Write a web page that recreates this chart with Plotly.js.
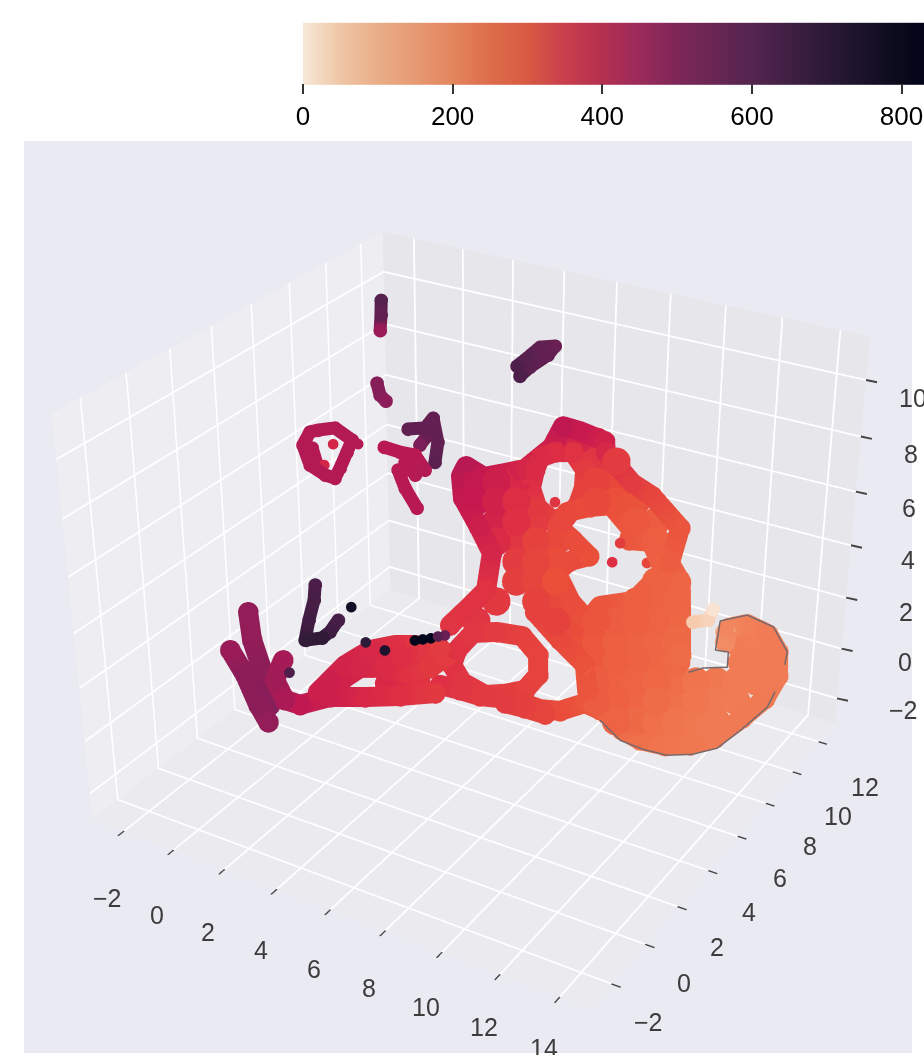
<!DOCTYPE html><html><head><meta charset="utf-8"><script src="https://cdn.plot.ly/plotly-3.0.1.min.js"></script><style>html,body{margin:0;padding:0;background:#fff;overflow:hidden}#g{position:absolute;left:0;top:-354px;width:924px;height:1870px}</style></head><body><div id="g"></div><script>
const H=1870,T=354;
const barScale=[[0,'#f6e8d8'],[0.06,'#efc6a5'],[0.12,'#e9ae88'],[0.24,'#e3865e'],[0.30,'#dd6d4a'],[0.36,'#d85a42'],[0.42,'#c93f4c'],[0.48,'#b5304f'],[0.54,'#9c2a5a'],[0.60,'#7f2758'],[0.72,'#552550'],[0.84,'#2d1a38'],[0.96,'#0a0a1c'],[1,'#05051a']];
const markScale=[[0,'#faebdd'],[0.06,'#f7d3bb'],[0.12,'#f5bd98'],[0.241,'#f2875f'],[0.301,'#ef6f49'],[0.361,'#ea4f3a'],[0.422,'#de2f44'],[0.482,'#c6184f'],[0.542,'#a61b57'],[0.602,'#861e59'],[0.723,'#56204f'],[0.843,'#2f1a38'],[1,'#03051a']];
const xr=[-3.3,15],yr=[-3.2,13.3],zr=[-3,11.5];
const xTicks=[-2,0,2,4,6,8,10,12,14],yTicks=[-2,0,2,4,6,8,10,12],zTicks=[-2,0,2,4,6,8,10],barTicks=[0,200,400,600,800];
const coreX=[7.47,8.02,8.18,8.73,5.06,5.60,6.15,8.34,8.88,5.21,5.76,6.31,8.50,9.04,9.59,5.92,6.47,7.01,9.75,10.30,6.08,6.63,7.17,7.72,10.46,6.79,7.33,7.88,6.94,7.49,8.04,10.77,11.32,6.56,7.65,8.20,10.39,10.93,11.48,6.17,8.36,8.90,9.45,10.00,10.54,11.09,11.64,9.06,9.61,10.16,10.70,11.25,11.80,13.44,13.98,9.77,10.32,10.86,11.41,11.96,14.14,9.93,10.47,11.02,11.57,12.12,12.66,13.21,13.76,14.30,10.09,10.63,11.18,11.73,12.27,12.82,13.37,13.92,10.79,11.34,11.89,12.43,12.98,13.53,13.77,14.47];
const coreY=[8.31,8.62,8.37,8.67,6.29,6.59,6.90,8.12,8.43,6.04,6.34,6.65,7.87,8.18,8.49,6.10,6.40,6.71,8.24,8.55,5.85,6.16,6.46,6.77,8.30,5.91,6.21,6.52,5.66,5.97,6.27,7.80,8.11,5.11,5.72,6.03,7.25,7.56,7.86,4.56,5.78,6.09,6.39,6.70,7.00,7.31,7.62,5.84,6.15,6.45,6.76,7.06,7.37,8.29,8.59,5.90,6.20,6.51,6.82,7.12,8.35,5.65,5.96,6.26,6.57,6.88,7.18,7.49,7.79,8.10,5.40,5.71,6.02,6.32,6.63,6.93,7.24,7.55,5.46,5.77,6.08,6.38,6.69,6.99,8.12,8.54];
const coreZ=[8.18,8.18,7.62,7.62,7.06,7.06,7.06,7.06,7.06,6.50,6.50,6.50,6.50,6.50,6.50,5.94,5.94,5.94,5.94,5.94,5.37,5.37,5.37,5.37,5.37,4.81,4.81,4.81,4.25,4.25,4.25,4.25,4.25,3.69,3.69,3.69,3.69,3.69,3.69,3.13,3.13,3.13,3.13,3.13,3.13,3.13,3.13,2.56,2.56,2.56,2.56,2.56,2.56,2.56,2.56,2.00,2.00,2.00,2.00,2.00,2.00,1.44,1.44,1.44,1.44,1.44,1.44,1.44,1.44,1.44,0.88,0.88,0.88,0.88,0.88,0.88,0.88,0.88,0.32,0.32,0.32,0.32,0.32,0.32,1.97,2.03];
const coreC=[370,365,340,330,405,385,365,320,310,400,380,355,310,300,295,375,350,330,285,280,360,340,320,310,275,330,315,305,325,315,300,270,265,335,320,310,275,270,265,340,320,305,290,280,275,268,262,300,285,275,270,265,258,225,222,285,275,270,262,258,225,280,272,268,260,252,240,232,225,225,280,272,265,255,245,235,228,225,268,258,248,240,232,228,225,225];
const bandX=[5.49,5.85,6.20,6.06,5.50,4.83,4.60,4.66,5.24,5.78,6.30,6.86,7.00,7.50,8.26,8.38,9.34,9.99,11.01,11.01,11.46,11.77,12.05,null,
6.58,6.61,6.93,7.44,7.80,8.03,8.06,7.95,7.48,6.98,6.62,6.58,null,
7.65,7.79,8.38,8.94,9.71,9.71,10.33,10.91,10.33,9.44,9.23,8.62,7.97,8.26,8.74,8.18,7.65,null,
7.71,8.62,9.50,9.76,10.27,9.80,9.18,8.62,8.02,7.44,6.88,6.28,5.69,null,
8.80,8.20,7.62,null,
5.86,5.88,6.18,6.83,7.55,8.14,8.30,8.06,7.54,7.01,6.27,5.86,null,
13.15,13.12,13.61,14.26,14.68,14.87,14.69,14.22,13.64,13.01,12.33,11.60,11.03,10.49,null,
-0.14,0.19,0.71,1.20,null,
-0.33,0.28,0.88,1.29,null,
1.20,1.14,1.57,2.02,2.78,3.74,4.69,5.62,null,
2.41,2.94,3.50,4.14,4.69,5.40,null,
2.97,3.37,4.05,4.63,5.29,5.67,null,
3.72,4.38,5.05,null,4.17,5.12,null,2.65,null,11.78,12.63,13.29];
const bandY=[4.11,4.59,5.09,5.64,5.76,5.88,6.12,6.32,6.46,6.83,7.18,7.87,8.29,8.49,8.75,8.63,8.65,8.79,8.83,8.24,8.17,7.71,7.27,null,
7.32,7.04,6.90,6.97,7.22,7.55,7.85,8.09,8.13,7.85,7.55,7.32,null,
6.98,7.29,7.71,8.05,8.07,7.90,8.21,8.05,7.22,6.64,6.27,6.24,6.39,6.74,7.09,7.04,6.98,null,
5.57,5.61,5.68,5.40,5.36,5.21,4.73,4.45,4.23,3.97,3.69,3.46,3.22,null,
4.46,4.23,3.99,null,
3.65,3.91,4.36,4.74,5.08,5.09,4.84,4.46,4.10,3.78,3.59,3.65,null,
8.11,8.33,8.67,8.86,8.80,8.50,8.02,7.43,6.77,6.30,5.91,5.60,5.45,5.41,null,
1.18,0.90,0.68,0.37,null,
0.44,0.36,0.19,0.13,null,
1.12,0.75,0.66,0.83,1.39,1.92,2.47,3.04,null,
1.26,2.01,2.58,3.02,3.33,3.67,null,
1.78,2.20,2.58,2.84,3.27,3.71,null,
2.53,2.95,3.36,null,2.40,2.95,null,1.59,null,5.90,6.31,6.74];
const bandZ=[3.01,3.49,4.00,5.04,5.77,6.58,7.20,7.48,7.17,7.28,7.40,8.01,8.60,8.46,8.18,7.87,7.00,6.64,5.74,4.76,4.22,3.15,2.17,null,
7.37,6.86,6.33,5.96,6.05,6.38,6.86,7.37,7.87,7.87,7.71,7.37,null,
5.79,6.19,6.33,6.38,5.68,5.40,5.35,4.53,3.69,3.55,3.13,3.66,4.50,4.81,4.95,5.40,5.79,null,
3.38,2.59,1.89,1.19,0.63,0.82,0.60,0.65,0.85,0.96,1.02,1.19,1.33,null,
0.51,0.68,0.82,null,
1.89,2.31,2.79,2.82,2.70,2.17,1.61,1.19,1.08,1.05,1.41,1.89,null,
2.54,2.93,3.04,2.76,2.26,1.58,0.94,0.40,-0.16,-0.36,-0.38,-0.22,0.06,0.51,null,
3.38,2.59,1.75,0.77,null,
2.31,1.61,0.77,0.29,null,
2.03,1.47,0.91,0.77,0.99,0.99,1.02,1.10,null,
1.13,1.89,2.31,2.45,2.45,2.37,null,
1.47,1.81,1.81,1.69,1.81,2.17,null,
2.03,2.12,2.17,null,1.38,1.41,null,1.47,null,0.12,0.01,0.12];
const bandC=[340,345,345,370,385,405,415,420,400,385,370,385,410,395,380,365,330,315,290,280,265,262,255,255,
360,350,335,325,322,320,320,330,345,355,360,360,360,
312,310,305,298,288,288,278,270,278,290,297,305,312,308,300,305,312,312,
322,310,295,290,285,290,305,315,325,330,335,340,350,350,
315,325,330,330,
345,345,338,330,322,318,318,322,328,333,340,345,345,
190,200,215,225,225,225,228,228,228,232,238,245,255,270,270,
480,480,490,500,500,
470,490,490,480,480,
450,460,440,410,385,365,350,335,335,
385,375,365,350,340,330,330,
380,370,360,345,335,330,330,
365,355,340,340,365,345,345,385,385,245,235,228];
const armX=[1.48,1.57,1.59,1.64,null,1.67,2.09,2.26,2.39,null,
0.12,0.03,0.39,0.88,1.17,1.23,1.29,1.34,0.77,0.33,0.12,null,
0.31,0.63,null,
2.27,2.74,3.18,3.57,null,2.83,3.22,3.18,null,2.83,3.17,3.65,null,2.96,3.34,null,
2.78,3.24,3.38,3.70,3.78,null,3.23,3.37,null,
-0.10,0.02,0.12,null,
1.56,1.74,1.95,null,
5.26,5.47,5.74,6.14,6.02,5.62,5.42,null,
12.11,12.51,12.56,null,12.98,13.23];
const armY=[2.54,2.34,2.01,1.71,null,1.72,1.99,2.19,2.46,null,
4.35,4.08,3.94,4.05,4.16,4.36,4.67,4.89,4.78,4.50,4.35,null,
4.18,4.03,null,
5.30,5.48,5.67,5.64,null,5.23,5.44,5.67,null,5.23,5.11,5.05,null,5.43,5.43,null,
5.89,6.16,6.40,6.18,5.89,null,5.87,6.12,null,
8.63,8.44,8.23,null,
5.98,5.88,5.89,null,
8.33,8.58,8.92,9.16,8.94,8.52,8.25,null,
7.86,8.12,8.33,null,8.19,8.44];
const armZ=[4.14,3.72,3.15,2.59,null,2.59,2.65,2.82,3.15,null,
8.44,8.07,7.51,7.23,7.14,7.42,7.87,8.21,8.55,8.49,8.44,null,
7.99,7.42,null,
8.01,7.87,7.79,7.37,null,7.37,7.37,7.79,null,7.37,6.86,6.30,null,7.59,7.23,null,
8.52,8.55,8.83,8.15,7.59,null,8.07,8.35,null,
11.32,10.90,10.45,null,
9.81,9.47,9.31,null,
10.29,10.51,10.82,10.85,10.60,10.26,10.01,null,
3.10,3.15,3.46,null,2.82,3.01];
const armC=[630,640,650,680,680,690,700,660,640,640,
430,430,430,430,430,430,430,430,430,430,430,430,
430,430,430,
420,420,420,430,430,420,425,420,420,420,420,420,420,420,425,425,
580,570,570,580,590,590,520,560,560,
600,580,470,470,
500,500,490,490,
620,600,580,560,570,590,620,620,
70,50,15,15,130,160];
const dotX=[4.78,4.99,5.20,5.38,5.56,4.04,3.46,1.62,2.64,0.85,0.77,1.53,9.42,9.49,10.38,7.38];
const dotY=[3.19,3.32,3.46,3.59,3.71,2.61,2.41,0.88,2.82,4.55,4.16,4.94,7.37,7.72,7.89,7.23];
const dotZ=[2.73,2.76,2.79,2.84,2.87,2.45,2.68,1.83,3.52,8.10,7.51,8.10,4.78,5.32,4.76,6.47];
const dotC=[820,830,830,600,560,750,700,620,780,370,370,430,350,330,310,340];
const edgeX=[12.44,12.81,13.46,13.37,13.00,12.90,13.59,14.40,14.98,14.95,14.87,14.32,13.83,13.20,12.52,11.82,11.12,10.41];
const edgeY=[7.07,7.35,7.73,7.93,7.76,8.19,8.68,8.93,8.83,8.66,7.85,7.15,6.58,6.12,5.73,5.43,5.19,5.13];
const edgeZ=[1.76,1.88,1.90,2.33,2.38,3.20,3.36,3.03,2.33,1.48,0.78,0.13,-0.37,-0.54,-0.57,-0.40,-0.15,0.42];
const minus=v=>String(v).replace('-','\u2212');
const ax=(r,col)=>({range:r,showbackground:true,backgroundcolor:col,gridcolor:'#fff',gridwidth:4,showline:false,zeroline:false,ticks:'outside',ticklen:8,tickwidth:3,tickcolor:'#444',showticklabels:false,dtick:2,title:{text:''},showspikes:false});
const af={family:'Liberation Sans',size:25,color:'#3c3c3c'};
const ann=[];
xTicks.forEach(v=>ann.push({x:v,y:yr[0],z:zr[0],text:minus(v),showarrow:false,xshift:-16,yshift:-67+(v+2),font:af}));
yTicks.forEach(v=>ann.push({x:xr[1],y:v,z:zr[0],text:minus(v),showarrow:false,xshift:37+(v+2)*0.7,yshift:-38-(v+2)/2,font:af}));
zTicks.forEach(v=>{ann.push({x:xr[1],y:yr[1],z:v,text:minus(v),showarrow:false,xshift:67-(v+2)*1.67,yshift:-12-(v+2)*0.5,font:af});
ann.push({x:xr[1],y:yr[1],z:v,text:' ',showarrow:true,arrowhead:0,arrowwidth:2,arrowcolor:'#444',ax:14,ay:3,standoff:0,startstandoff:0});});
const e=29*Math.PI/180,a=-59*Math.PI/180,d=5;
const pts=(X,Y,Z,C,size,w)=>({type:'scatter3d',mode:w?'lines+markers':'markers',x:X,y:Y,z:Z,connectgaps:false,marker:{size:size,color:C,cmin:0,cmax:830,colorscale:markScale,opacity:1,line:{width:0}},line:w?{width:w,color:C,cmin:0,cmax:830,colorscale:markScale}:undefined,hoverinfo:'skip'});
Plotly.newPlot('g',[
pts(coreX,coreY,coreZ,coreC,16.5,0),
pts(bandX,bandY,bandZ,bandC,12,40),
pts(armX,armY,armZ,armC,8,26),
pts(dotX,dotY,dotZ,dotC,6.2,0),
{type:'scatter3d',mode:'lines',x:edgeX,y:edgeY,z:edgeZ,line:{color:'#77696b',width:3},hoverinfo:'skip'},
{type:'scatter3d',mode:'markers',x:[0],y:[0],z:[0],hoverinfo:'skip',marker:{size:0.01,opacity:0.01,color:[0],cmin:0,cmax:830,colorscale:barScale,showscale:true,colorbar:{orientation:'h',x:303/924,xanchor:'left',y:1-(132+T)/H,yanchor:'bottom',thickness:62,len:621,lenmode:'pixels',outlinewidth:0,ticks:'outside',ticklen:10,tickwidth:2,tickcolor:'#333',tickvals:barTicks,tickfont:{family:'Liberation Sans',size:26,color:'#000'},xpad:0,ypad:0}}}
],
{width:924,height:H,margin:{l:0,r:0,t:0,b:0},paper_bgcolor:'#fff',showlegend:false,
shapes:[{type:'rect',xref:'paper',yref:'paper',x0:24/924,x1:912/924,y0:1-(1053+T)/H,y1:1-(141+T)/H,fillcolor:'#eaeaf2',line:{width:0},layer:'below'}],
scene:{domain:{x:[0.03,1],y:[0,1]},bgcolor:'rgba(0,0,0,0)',aspectmode:'manual',aspectratio:{x:1.27,y:1.23,z:1.0},annotations:ann,xaxis:ax(xr,'#eeeef2'),yaxis:ax(yr,'#e6e6eb'),zaxis:Object.assign(ax(zr,'#ebebef'),{ticks:''}),camera:{eye:{x:d*Math.cos(e)*Math.cos(a),y:d*Math.cos(e)*Math.sin(a),z:d*Math.sin(e)},center:{x:0,y:0,z:0},up:{x:0,y:0,z:1},projection:{type:'perspective'}}}},{displayModeBar:false});
</script></body></html>
